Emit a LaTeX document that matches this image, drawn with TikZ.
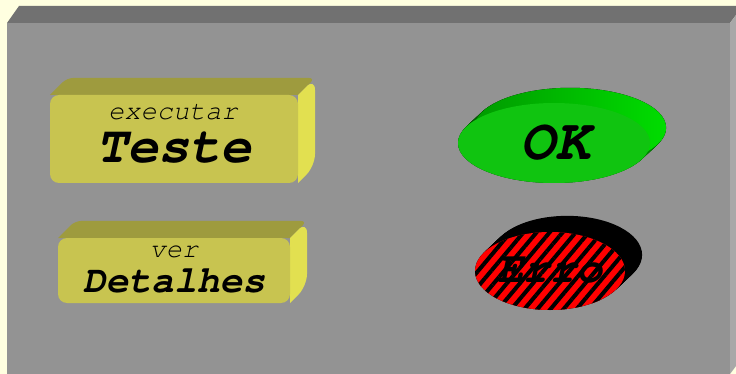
\documentclass[tikz,border=0pt]{standalone}
\usepackage[T1]{fontenc}
\usepackage{courier}
\usetikzlibrary{calc, positioning, patterns.meta}
\definecolor{creme}{HTML}{FFFFE0}
\definecolor{painel}{HTML}{939393}
\definecolor{painelTopo}{HTML}{717171}
\definecolor{painelLado}{HTML}{A8A8A8}
\definecolor{amarelo}{HTML}{C8C450}
\definecolor{amareloTopo}{HTML}{9E9B3E}
\definecolor{amareloLado}{HTML}{E2E050}
\definecolor{verde}{HTML}{10C410}
\definecolor{verdeEscuro}{HTML}{009A00}
\definecolor{verdeClaro}{HTML}{00DD00}
\definecolor{vermelho}{HTML}{FF0000}
\newcommand{\courier}{\fontfamily{pcr}\selectfont}

\begin{document}
\begin{tikzpicture}[
    x = 1pt, y = -1pt,
    caixa/.style = {inner sep=0pt, outer sep=0pt},
    frente/.style = {fill=amarelo, rounded corners=9pt},
    rotulo/.style = {anchor=base, inner sep=0pt, text depth=0pt},
    titulo/.style = {anchor=base, inner sep=0pt, text depth=0pt, text height=0.6em}
  ]
  \useasboundingbox[fill=creme] (0,0) rectangle (736,374);

  \fill[painelTopo] (7,23) -- (19,6) -- (736,6) -- (736,15) -- (730,23) -- cycle;
  \fill[painelLado] (730,23) -- (736,15) -- (736,366) -- (730,374) -- cycle;
  \fill[painel] (7,23) rectangle (730,374);

  \path node[caixa, minimum width=248, minimum height=88] (teste) at (174,139) {};
  \path node[caixa, minimum width=232, minimum height=65] (detalhes) at (174,270.5) {};

  \foreach \b in {teste, detalhes} {
    \fill[amareloTopo] (\b.north east) -- (\b.north west)
      [rounded corners=6pt] -- ([shift={(17,-17)}]\b.north west)
      -- ([shift={(17,-17)}]\b.north east) [sharp corners] -- cycle;
    \fill[amareloLado] (\b.south east) -- (\b.north east)
      [rounded corners=12pt] -- ([shift={(17,-17)}]\b.north east)
      -- ([shift={(17,-17)}]\b.south east) [sharp corners] -- cycle;
    \fill[frente] (\b.south west) rectangle (\b.north east);
  }

  \node[rotulo, font=\courier\slshape\fontsize{27}{27}\selectfont] (executar) at (173,120) {executar};
  \node[titulo, font=\courier\bfseries\slshape\fontsize{52}{52}\selectfont] (testeTxt) at (174,163) {Teste};
  \node[rotulo, font=\courier\slshape\fontsize{27}{27}\selectfont] (ver) at (174,258) {ver};
  \node[titulo, font=\courier\bfseries\slshape\fontsize{38}{38}\selectfont] (detalhesTxt) at (174,292) {Detalhes};

  \coordinate (ok) at (554,143);
  \coordinate (erro) at (550,271);
  \foreach \k in {0,0.05,...,1}
    \fill[left color=verdeEscuro, right color=verdeClaro] ($(ok)+\k*(17,-16)$) ellipse [x radius=96, y radius=40];
  \fill[verde] (ok) ellipse [x radius=96, y radius=40];
  \node[titulo, font=\courier\bfseries\slshape\fontsize{58}{58}\selectfont] (okTxt) at (555,160) {OK};

  \foreach \k in {0,0.05,...,1}
    \fill[black] ($(erro)+\k*(18,-17)$) ellipse [x radius=75, y radius=39];
  \fill[vermelho] (erro) ellipse [x radius=75, y radius=39];
  \fill[pattern={Lines[angle=50, distance=10pt, line width=4pt]}, pattern color=black]
    (erro) ellipse [x radius=75, y radius=39];
  \node[titulo, font=\courier\bfseries\slshape\fontsize{44}{44}\selectfont] (erroTxt) at (550,282) {Erro};
\end{tikzpicture}
\end{document}
